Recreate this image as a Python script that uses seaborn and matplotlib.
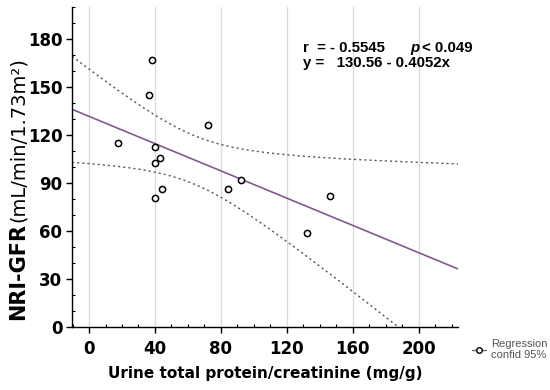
import numpy as np
import pandas as pd
import seaborn as sns
import matplotlib.pyplot as plt
from matplotlib.lines import Line2D
from matplotlib.ticker import MultipleLocator

# values
protein = [38.0, 36.2, 72.4, 17.6, 40.2, 43.3, 40.0, 92.4, 44.3, 84.2, 40.2, 146.2, 132.1]
gfr = [167.0, 145.0, 126.0, 114.8, 112.7, 105.6, 102.7, 91.7, 86.4, 86.4, 80.6, 81.9, 58.6]
x_ticks = [0, 40, 80, 120, 160, 200]
y_ticks = [0, 30, 60, 90, 120, 150, 180]

df = pd.DataFrame({"protein": protein, "gfr": gfr})

sns.set_style("ticks")
plt.rcParams["font.family"] = ["DejaVu Sans"]
plt.rcParams["text.color"] = "black"
plt.rcParams["axes.labelcolor"] = "black"
plt.rcParams["xtick.color"] = "black"
plt.rcParams["ytick.color"] = "black"
plt.rcParams["axes.edgecolor"] = "black"

fig = plt.figure(figsize=(5.5, 3.9), dpi=100)
ax = fig.add_axes([0.131, 0.1615, 0.702, 0.8205])
xlim = (-10.3, 224)
ax.set_xlim(*xlim)
ax.set_ylim(0, 200)

# least squares fit + 95% confidence band of the mean
x = df["protein"].to_numpy()
y = df["gfr"].to_numpy()
n = len(x)
slope, icpt = np.polyfit(x, y, 1)
resid = y - (icpt + slope * x)
s = np.sqrt(np.sum(resid ** 2) / (n - 2))
t_crit = 2.201  # t(0.975, df=11)
xs = np.linspace(xlim[0], xlim[1], 200)
fit = icpt + slope * xs
half = t_crit * s * np.sqrt(1 / n + (xs - x.mean()) ** 2 / np.sum((x - x.mean()) ** 2))
band = pd.DataFrame({"x": xs, "fit": fit, "lo": fit - half, "hi": fit + half})

for v in x_ticks:
    ax.axvline(v, color="#dadada", lw=0.9, zorder=0)

sns.lineplot(data=band, x="x", y="fit", color="#82598f", lw=1.2, ax=ax)
for col in ["lo", "hi"]:
    sns.lineplot(data=band, x="x", y=col, color="#555555", lw=1.0,
                 linestyle=(0, (1.5, 2.2)), ax=ax)
sns.scatterplot(data=df, x="protein", y="gfr", marker="o", s=20,
                facecolor="white", edgecolor="black", linewidth=1.1,
                zorder=5, ax=ax)

sns.despine(ax=ax)
ax.spines["left"].set_linewidth(1.0)
ax.spines["bottom"].set_linewidth(1.0)
ax.set_xticks(x_ticks)
ax.set_yticks(y_ticks)
ax.xaxis.set_minor_locator(MultipleLocator(10))
ax.yaxis.set_minor_locator(MultipleLocator(10))
ax.tick_params(which="major", direction="out", length=4, width=1,
               labelsize=12, pad=5)
ax.tick_params(axis="y", which="major", pad=3)
ax.tick_params(which="minor", direction="in", length=2.5, width=0.8)
for lab in ax.get_xticklabels() + ax.get_yticklabels():
    lab.set_fontweight("bold")

ax.set_xlabel("Urine total protein/creatinine (mg/g)", fontsize=11,
              fontweight="bold", labelpad=6)
ax.set_ylabel("")
fig.text(0.033, 0.179, "NRI-GFR", rotation=90, fontsize=15, fontweight="bold",
         ha="center", va="bottom")
fig.text(0.033, 0.431, "(mL/min/1.73m²)", rotation=90, fontsize=14,
         ha="center", va="bottom")

# equation text
tk = dict(fontsize=10.8, fontweight="bold", family="Liberation Sans")
fig.text(0.551, 0.866, "r  = - 0.5545", **tk)
fig.text(0.746, 0.866, "p", style="italic", **tk)
fig.text(0.768, 0.866, "< 0.049", **tk)
fig.text(0.551, 0.828, "y =   130.56 - 0.4052x", **tk)

handle = Line2D([0], [0], color="#82598f", lw=1.0, marker="o", markersize=4,
                markerfacecolor="white", markeredgecolor="black")
leg = ax.legend([handle], ["Regression\nconfid 95%"], loc="upper left",
                bbox_to_anchor=(1.01, -0.005), frameon=False, handlelength=1.3,
                handletextpad=0.4, prop={"family": "Liberation Sans", "size": 8})
for t in leg.get_texts():
    t.set_color("#555555")

fig.savefig("out.png", dpi=100)
